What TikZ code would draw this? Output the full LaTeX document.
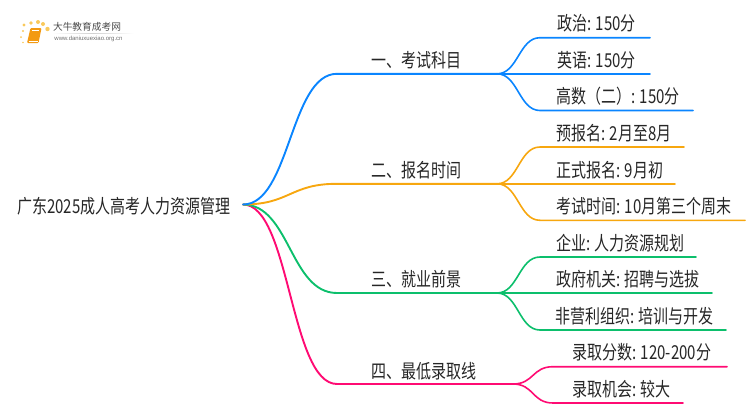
\documentclass[tikz,border=0pt]{standalone}
\usepackage{fontspec}
\setmainfont{Noto Sans CJK SC}
\newfontfamily\urlfont{Liberation Sans}
\definecolor{MapBlue}{HTML}{0A85FF}
\definecolor{MapOrange}{HTML}{F7A70F}
\definecolor{MapGreen}{HTML}{0CBF6C}
\definecolor{MapPink}{HTML}{FF0B73}
\definecolor{MapText}{HTML}{262626}
\definecolor{LogoText}{HTML}{4A4A4A}
\definecolor{LogoOrange}{HTML}{F39A12}
\definecolor{LogoDot}{HTML}{F9C95C}
\newcommand{\tall}[1]{\scalebox{1}[1.28]{#1}}

\begin{document}
\begin{tikzpicture}[
    x=1pt,y=-1pt,
    maplabel/.style={anchor=west,inner sep=0pt,text=MapText,font=\fontsize{15}{18}\selectfont},
    limb/.style={line width=1.9pt,line cap=round},
    twig/.style={line width=1.6pt,line cap=round},
    swing/.style={out=0,in=180,distance=47pt},
    flick/.style={out=0,in=180,distance=21pt},
    logodot/.style={fill=LogoDot,draw=none}
  ]
    \useasboundingbox (0,0) rectangle (750,410);

    % logo
    \fill[logodot] (24,25) circle (1.6);
    \fill[logodot] (23,31) circle (1.2);
    \fill[logodot] (21,37) circle (1);
    \fill[logodot] (23,42.5) circle (0.9);
    \fill[logodot] (31,23) circle (1.9);
    \fill[logodot] (38,22) circle (2);
    \fill[logodot] (43,24) circle (2);
    \fill[logodot] (47.5,29) circle (2.2);
    \fill[LogoOrange,rounded corners=1pt] (30.5,28) -- (41.5,28) -- (38.5,43) -- (27,43) -- cycle;
    \draw[white,line width=0.5pt] (32,30.5) -- (39,30.5);
    \draw[white,line width=0.5pt] (28.5,41) -- (37.5,41);
    \node[inner sep=0pt,text=LogoText,font=\fontsize{9.7}{11}\selectfont] (brand) at (87,27) {大牛教育成考网};
    \node[inner sep=0pt,text=LogoText!80,font=\urlfont\fontsize{6}{7}\selectfont] (site) at (88.5,38.7) {www.daniuxuexiao.org.cn};
    \shade[left color=white,right color=white,middle color=black!18] (52,33) rectangle (134,33.6);

    % root
    \node[maplabel] (root) at (17,206) {\tall{广东2025成人高考人力资源管理}};
    \coordinate (rootend) at (243,204.5);

    % first level
    \node[maplabel] (exam) at (371,60) {\tall{一、考试科目}};
    \node[maplabel] (sign) at (371,170) {\tall{二、报名时间}};
    \node[maplabel] (jobs) at (371,279) {\tall{三、就业前景}};
    \node[maplabel] (cutoff) at (371,371) {\tall{四、最低录取线}};
    \coordinate (examstart) at (337,73.8);
    \coordinate (signstart) at (337,183.8);
    \coordinate (jobsstart) at (337,293);
    \coordinate (cutoffstart) at (337,384);
    \coordinate (examhub) at (497,73.8);
    \coordinate (signhub) at (497,183.8);
    \coordinate (jobshub) at (497,293);
    \coordinate (cutoffhub) at (513,384);

    % second level
    \node[maplabel] (politics) at (557,23.5) {\tall{政治: 150分}};
    \node[maplabel] (english) at (557,60) {\tall{英语: 150分}};
    \node[maplabel] (maths) at (556,96.5) {\tall{高数（二）: 150分}};
    \node[maplabel] (pre) at (556,133) {\tall{预报名: 2月至8月}};
    \node[maplabel] (formal) at (556,170) {\tall{正式报名: 9月初}};
    \node[maplabel] (date) at (556,206) {\tall{考试时间: 10月第三个周末}};
    \node[maplabel] (firm) at (556,243) {\tall{企业: 人力资源规划}};
    \node[maplabel] (gov) at (556,279.5) {\tall{政府机关: 招聘与选拔}};
    \node[maplabel] (npo) at (555,316) {\tall{非营利组织: 培训与开发}};
    \node[maplabel] (score) at (572,352.5) {\tall{录取分数: 120-200分}};
    \node[maplabel] (odds) at (572,389) {\tall{录取机会: 较大}};

    \draw[limb,MapPink] (rootend) to[swing] (cutoffstart) -- (cutoffhub);
    \draw[limb,MapGreen] (rootend) to[swing] (jobsstart) -- (jobshub);
    \draw[limb,MapOrange] (rootend) to[swing] (signstart) -- (signhub);
    \draw[limb,MapBlue] (rootend) to[swing] (examstart) -- (examhub);

    \draw[twig,MapBlue] (examhub) to[flick] (540,37.7) -- (650,37.7);
    \draw[twig,MapBlue] (examhub) -- (650,73.8);
    \draw[twig,MapBlue] (examhub) to[flick] (540,110.5) -- (693,110.5);

    \draw[twig,MapOrange] (signhub) to[flick] (540,147) -- (684,147);
    \draw[twig,MapOrange] (signhub) -- (675,183.8);
    \draw[twig,MapOrange] (signhub) to[flick] (540,220.3) -- (745,220.3);

    \draw[twig,MapGreen] (jobshub) to[flick] (540,257) -- (696,257);
    \draw[twig,MapGreen] (jobshub) -- (712,293);
    \draw[twig,MapGreen] (jobshub) to[flick] (540,330) -- (726,330);

    \draw[twig,MapPink] (cutoffhub) to[flick] (553,366.7) -- (727,366.7);
    \draw[twig,MapPink] (cutoffhub) to[flick] (553,403) -- (683,403);
  \end{tikzpicture}
\end{document}
